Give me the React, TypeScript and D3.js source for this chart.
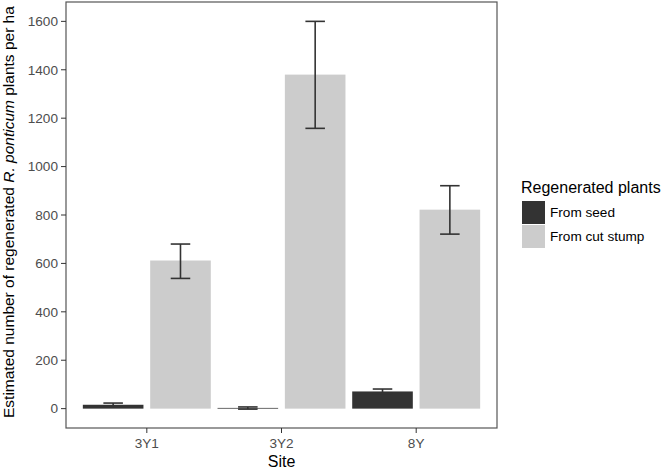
import * as d3 from "d3";
import React from "react";

const sites = ["3Y1", "3Y2", "8Y"];
const groups = ["From seed", "From cut stump"];
const seedMean = [16, 3, 71];
const seedLow = [10, -2, 62];
const seedHigh = [23, 7, 81];
const stumpMean = [612, 1380, 822];
const stumpLow = [538, 1158, 721];
const stumpHigh = [680, 1600, 921];
const yTicks = [0, 200, 400, 600, 800, 1000, 1200, 1400, 1600];

const colors = ["#333333", "#cccccc"];

const App = () => {
  const width = 662;
  const height = 469;
  const panel = { left: 66, right: 497, top: 2, bottom: 428 };

  const x = d3
    .scaleBand()
    .domain(sites)
    .range([panel.left, panel.right])
    .paddingInner(0)
    .paddingOuter(0.1);
  const step = x.step();
  const barW = step * 0.45;
  const capW = step * 0.145;

  const y = d3.scaleLinear().domain([-80, 1680]).range([panel.bottom, panel.top]);

  const series = [
    { mean: seedMean, low: seedLow, high: seedHigh, offset: -0.25 },
    { mean: stumpMean, low: stumpLow, high: stumpHigh, offset: 0.25 },
  ];

  const font = "'Liberation Sans', Arial, sans-serif";

  return (
    <svg
      width={width}
      height={height}
      style={{ position: "absolute", left: 0, top: 0, background: "#fff" }}
      fontFamily={font}
    >
      <rect width={width} height={height} fill="#fff" />

      {/* bars */}
      {series.map((s, si) =>
        sites.map((site, i) => {
          const cx = x(site)! + step / 2 + s.offset * step;
          const top = y(Math.max(s.mean[i], 0));
          return (
            <rect
              key={`b${si}${i}`}
              x={cx - barW / 2}
              y={top}
              width={barW}
              height={y(0) - top}
              fill={colors[si]}
            />
          );
        })
      )}

      {/* error bars */}
      {series.map((s, si) =>
        sites.map((site, i) => {
          const cx = x(site)! + step / 2 + s.offset * step;
          return (
            <g key={`e${si}${i}`} stroke="#333" strokeWidth={1.6} fill="none">
              <line x1={cx} x2={cx} y1={y(s.low[i])} y2={y(s.high[i])} />
              <line x1={cx - capW / 2} x2={cx + capW / 2} y1={y(s.low[i])} y2={y(s.low[i])} />
              <line x1={cx - capW / 2} x2={cx + capW / 2} y1={y(s.high[i])} y2={y(s.high[i])} />
            </g>
          );
        })
      )}

      {/* panel border */}
      <rect
        x={panel.left}
        y={panel.top}
        width={panel.right - panel.left}
        height={panel.bottom - panel.top}
        fill="none"
        stroke="#555"
        strokeWidth={1.2}
      />

      {/* y axis */}
      {yTicks.map((t) => (
        <g key={t}>
          <line x1={panel.left - 5} x2={panel.left} y1={y(t)} y2={y(t)} stroke="#333" strokeWidth={1} />
          <text
            x={panel.left - 8}
            y={y(t)}
            dy="0.35em"
            textAnchor="end"
            fontSize={13.6}
            fill="#4d4d4d"
          >
            {t}
          </text>
        </g>
      ))}

      {/* x axis */}
      {sites.map((site) => {
        const cx = x(site)! + step / 2;
        return (
          <g key={site}>
            <line x1={cx} x2={cx} y1={panel.bottom} y2={panel.bottom + 5} stroke="#333" strokeWidth={1} />
            <text x={cx} y={panel.bottom + 20} textAnchor="middle" fontSize={13.6} fill="#4d4d4d">
              {site}
            </text>
          </g>
        );
      })}

      <text x={(panel.left + panel.right) / 2} y={467} textAnchor="middle" fontSize={16} fill="#000">
        Site
      </text>

      <text
        transform={`translate(14,418) rotate(-90)`}
        textAnchor="start"
        fontSize={15.5}
        fill="#000"
      >
        Estimated number of regenerated <tspan fontStyle="italic">R. ponticum</tspan> plants per ha
      </text>

      {/* legend */}
      <text x={521} y={193} fontSize={16} fill="#000">
        Regenerated plants
      </text>
      {groups.map((g, i) => (
        <g key={g}>
          <rect x={522} y={201 + i * 24} width={23} height={23} fill={colors[i]} />
          <text x={550} y={201 + i * 24 + 11.5} dy="0.35em" fontSize={13.6} fill="#000">
            {g}
          </text>
        </g>
      ))}
    </svg>
  );
};

export default App;
